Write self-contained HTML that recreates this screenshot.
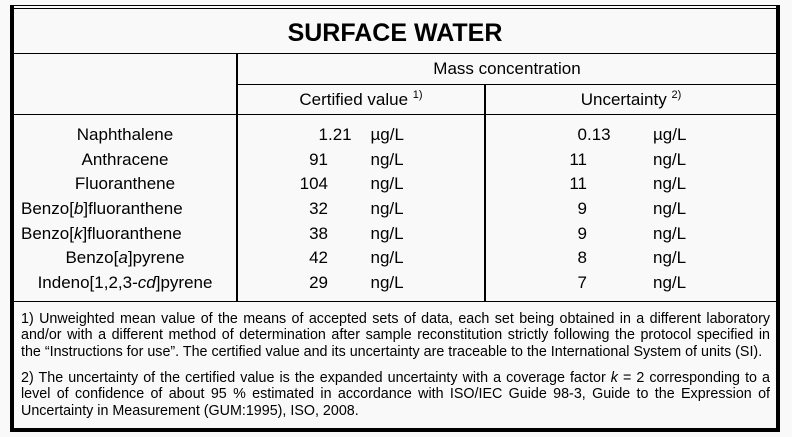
<!DOCTYPE html>
<html>
<head>
<meta charset="utf-8">
<style>
  html,body{margin:0;padding:0;}
  body{width:792px;height:437px;background:#f9f9f9;position:relative;overflow:hidden;
       font-family:"Liberation Sans",Arial,sans-serif;color:#000;}
  .ln{position:absolute;background:#000;}
  .t{position:absolute;white-space:nowrap;}
  .r17{font-size:17px;line-height:20px;}
  .sup{font-size:11px;position:relative;top:-7px;}
  .row{position:absolute;left:0;width:792px;height:24.7px;font-size:17px;line-height:24.7px;}
  .row span{position:absolute;top:0;white-space:nowrap;}
  .nm{left:14px;width:222px;text-align:center;}
  .nml{left:21px;}
  .iv{left:228px;width:100px;text-align:right;}
  .fv{left:328px;}
  .uv{left:370.5px;}
  .iu{left:487px;width:100px;text-align:right;}
  .fu{left:587px;}
  .uu{left:653px;}
  .fn{position:absolute;left:21px;width:749px;font-size:14.3px;line-height:16.3px;}
  .j{text-align:justify;text-align-last:justify;white-space:nowrap;}
  .l{white-space:nowrap;}
</style>
</head>
<body>
  <!-- outer frame -->
  <div class="ln" style="left:10px;top:5px;width:770px;height:1px;"></div>
  <div class="ln" style="left:10px;top:8px;width:770px;height:1px;"></div>
  <div class="ln" style="left:10px;top:5px;width:4px;height:427px;"></div>
  <div class="ln" style="left:776px;top:5px;width:4px;height:427px;"></div>
  <div class="ln" style="left:10px;top:428px;width:770px;height:4px;"></div>

  <!-- inner lines -->
  <div class="ln" style="left:14px;top:53px;width:762px;height:1px;"></div>
  <div class="ln" style="left:236px;top:53px;width:2px;height:248px;"></div>
  <div class="ln" style="left:238px;top:84px;width:538px;height:1px;"></div>
  <div class="ln" style="left:484px;top:84px;width:2px;height:217px;"></div>
  <div class="ln" style="left:14px;top:114px;width:762px;height:1px;"></div>
  <div class="ln" style="left:14px;top:301px;width:762px;height:1px;"></div>

  <!-- title -->
  <div class="t" style="left:14px;width:762px;top:18.3px;text-align:center;font-size:25px;line-height:30px;font-weight:bold;">SURFACE WATER</div>

  <!-- headers -->
  <div class="t r17" style="left:238px;width:538px;top:59.1px;text-align:center;">Mass concentration</div>
  <div class="t r17" style="left:238px;width:246px;top:90.1px;text-align:center;">Certified value <span class="sup">1)</span></div>
  <div class="t r17" style="left:486px;width:290px;top:90.1px;text-align:center;">Uncertainty <span class="sup">2)</span></div>

  <!-- data rows -->
  <div class="row" style="top:122.8px;">
    <span class="nm">Naphthalene</span>
    <span class="iv">1</span><span class="fv">.21</span><span class="uv">µg/L</span>
    <span class="iu">0</span><span class="fu">.13</span><span class="uu">µg/L</span>
  </div>
  <div class="row" style="top:147.5px;">
    <span class="nm">Anthracene</span>
    <span class="iv">91</span><span class="uv">ng/L</span>
    <span class="iu">11</span><span class="uu">ng/L</span>
  </div>
  <div class="row" style="top:172.2px;">
    <span class="nm">Fluoranthene</span>
    <span class="iv">104</span><span class="uv">ng/L</span>
    <span class="iu">11</span><span class="uu">ng/L</span>
  </div>
  <div class="row" style="top:196.9px;">
    <span class="nml">Benzo[<i>b</i>]fluoranthene</span>
    <span class="iv">32</span><span class="uv">ng/L</span>
    <span class="iu">9</span><span class="uu">ng/L</span>
  </div>
  <div class="row" style="top:221.6px;">
    <span class="nml">Benzo[<i>k</i>]fluoranthene</span>
    <span class="iv">38</span><span class="uv">ng/L</span>
    <span class="iu">9</span><span class="uu">ng/L</span>
  </div>
  <div class="row" style="top:246.3px;">
    <span class="nm">Benzo[<i>a</i>]pyrene</span>
    <span class="iv">42</span><span class="uv">ng/L</span>
    <span class="iu">8</span><span class="uu">ng/L</span>
  </div>
  <div class="row" style="top:271px;">
    <span class="nm">Indeno[1,2,3-<i>cd</i>]pyrene</span>
    <span class="iv">29</span><span class="uv">ng/L</span>
    <span class="iu">7</span><span class="uu">ng/L</span>
  </div>

  <!-- footnotes -->
  <div class="fn" style="top:311.2px;">
    <div class="j">1) Unweighted mean value of the means of accepted sets of data, each set being obtained in a different laboratory</div>
    <div class="j">and/or with a different method of determination after sample reconstitution strictly following the protocol specified in</div>
    <div class="l">the “Instructions for use”. The certified value and its uncertainty are traceable to the International System of units (SI).</div>
  </div>
  <div class="fn" style="top:370.2px;">
    <div class="j">2) The uncertainty of the certified value is the expanded uncertainty with a coverage factor <i>k</i> = 2 corresponding to a</div>
    <div class="j">level of confidence of about 95 % estimated in accordance with ISO/IEC Guide 98-3, Guide to the Expression of</div>
    <div class="l">Uncertainty in Measurement (GUM:1995), ISO, 2008.</div>
  </div>
</body>
</html>
